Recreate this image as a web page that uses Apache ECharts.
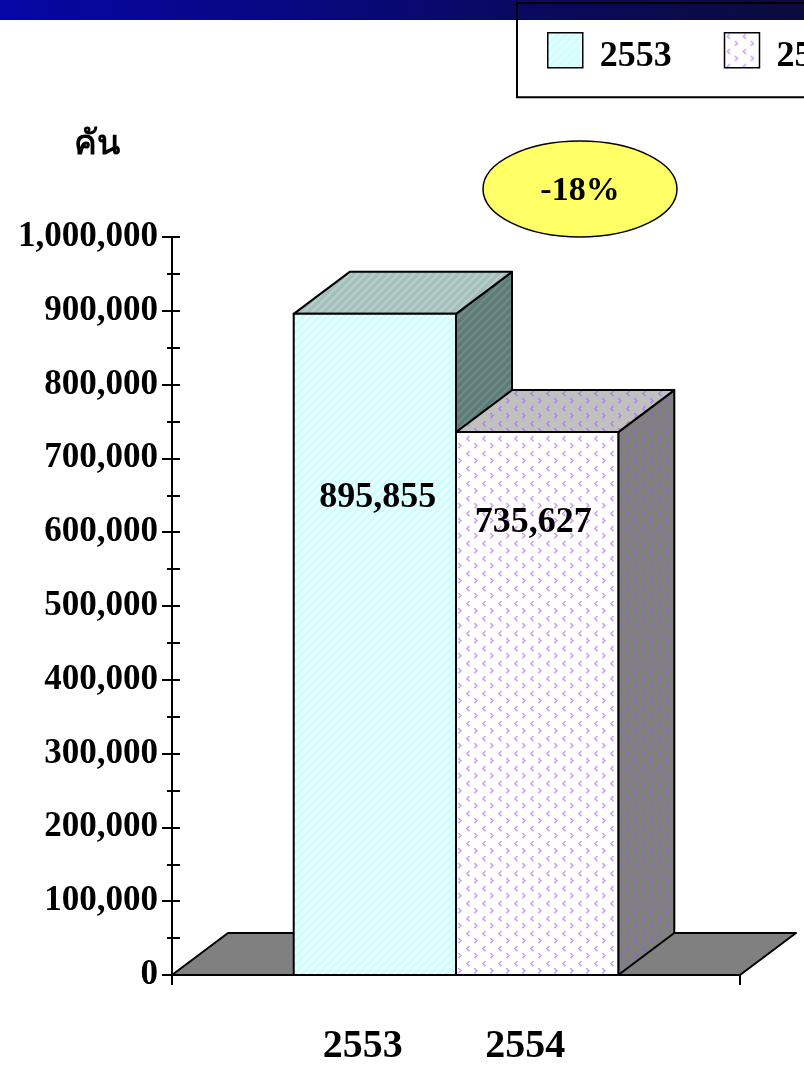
<!DOCTYPE html>
<html>
<head>
<meta charset="utf-8">
<title>จำนวนรถ</title>
<script src="https://cdn.jsdelivr.net/npm/echarts@6/dist/echarts.min.js"></script>
<style>
    html, body { margin: 0; padding: 0; background: #fff; }
    #main { width: 804px; height: 1069px; }
</style>
</head>
<body>
<div id="main"></div>
<script>
// ข้อมูล
var years = ['2553', '2554'];
var cars = [895855, 735627];
var yMin = 0, yMax = 1000000, yStep = 100000;
var unitName = 'คัน';

var FONT = '"Liberation Serif", "Times New Roman", serif';
var DX = 56, DY = -42;   // 3d depth offset
var xMin = -1.25, xMax = 2.25;

function fmt(v) {
    return Number(v).toLocaleString('en-US');
}

// striped pattern (cyan bar)
function stripes(bg, fg) {
    var c = document.createElement('canvas');
    c.width = 8; c.height = 8;
    var g = c.getContext('2d');
    g.fillStyle = bg;
    g.fillRect(0, 0, 8, 8);
    g.strokeStyle = fg;
    g.lineWidth = 2;
    g.beginPath();
    g.moveTo(-2, 10); g.lineTo(10, -2);
    g.moveTo(-2, 2); g.lineTo(2, -2);
    g.moveTo(6, 10); g.lineTo(10, 6);
    g.stroke();
    return { image: c, repeat: 'repeat' };
}

// small < > marks (purple bar)
function chevrons(bg, fg) {
    var c = document.createElement('canvas');
    c.width = 16; c.height = 15;
    var g = c.getContext('2d');
    g.fillStyle = bg;
    g.fillRect(0, 0, 16, 15);
    g.fillStyle = fg;
    function mark(x, y, right) {
        // pixel chevron 3 wide, 5 tall
        var col = right ? [0, 1, 2, 1, 0] : [2, 1, 0, 1, 2];
        for (var k = 0; k < 5; k++) {
            g.fillRect(x + col[k], y + k, 1.7, 1.3);
        }
    }
    mark(2, 1, false);
    mark(10, 8, true);
    return { image: c, repeat: 'repeat' };
}

var pats = [
    {
        front: stripes('#ccffff', '#f0ffff'),
        top: stripes('#a3bfbb', '#b9cfcb'),
        side: stripes('#5f7b78', '#708c88'),
        drop: 184, shift: 3
    },
    {
        front: chevrons('#ffffff', '#c29cff'),
        top: chevrons('#c0c0c0', '#a884e6'),
        side: chevrons('#808080', '#8a6cc0'),
        drop: 91, shift: -4
    }
];

var edge = { stroke: '#000', lineWidth: 2, lineJoin: 'round' };

function barItem(p) {
    return function(params, api) {
        var x = api.value(0), v = api.value(1);
        var tl = api.coord([x - 0.5, v]);
        var br = api.coord([x + 0.5, 0]);
        var L = tl[0], T = tl[1], R = br[0], B = br[1];
        return {
            type: 'group',
            children: [{
                type: 'polygon',
                shape: { points: [[R, T], [R + DX, T + DY], [R + DX, B + DY], [R, B]] },
                style: Object.assign({ fill: p.side }, edge)
            }, {
                type: 'polygon',
                shape: { points: [[L, T], [L + DX, T + DY], [R + DX, T + DY], [R, T]] },
                style: Object.assign({ fill: p.top }, edge)
            }, {
                type: 'rect',
                shape: { x: L, y: T, width: R - L, height: B - T },
                style: Object.assign({ fill: p.front }, edge)
            }, {
                type: 'text',
                style: {
                    text: fmt(v), x: (L + R) / 2 + p.shift, y: T + p.drop,
                    align: 'center', verticalAlign: 'middle',
                    fontFamily: FONT, fontWeight: 'bold', fontSize: 36, fill: '#000'
                }
            }]
        };
    };
}

function floorItem(params, api) {
    var cs = params.coordSys;
    var y0 = api.coord([0, 0])[1];
    var l = cs.x, r = cs.x + cs.width;
    return {
        type: 'polygon',
        shape: { points: [[l, y0], [l + DX, y0 + DY], [r + DX, y0 + DY], [r, y0]] },
        style: Object.assign({ fill: '#808080' }, edge)
    };
}

var pct = Math.round((cars[1] - cars[0]) / cars[0] * 100);

var series = [{
    name: 'floor',
    type: 'custom',
    renderItem: floorItem,
    data: [[0, 0]],
    silent: true
}];
years.forEach(function(y, i) {
    series.push({
        name: y,
        type: 'custom',
        renderItem: barItem(pats[i]),
        itemStyle: { color: pats[i].front },
        encode: { x: 0, y: 1 },
        data: [[i, cars[i]]]
    });
});

var axisLineStyle = { color: '#000', width: 2 };

var myChart = echarts.init(document.getElementById('main'));
var option = {
    animation: false,
    grid: { left: 172, right: 64, top: 237, bottom: 94 },
    legend: {
        data: years,
        left: 517, top: 3,
        width: 380,
        padding: [29, 40, 23, 30],
        itemGap: 52,
        itemWidth: 35,
        itemHeight: 35,
        icon: 'rect',
        borderColor: '#000',
        borderWidth: 2,
        itemStyle: { borderColor: '#000', borderWidth: 1.5 },
        formatter: '{t|{name}}',
        textStyle: {
            fontFamily: FONT, fontWeight: 'bold', fontSize: 36, color: '#000',
            rich: {
                t: { fontFamily: FONT, fontWeight: 'bold', fontSize: 36, color: '#000', padding: [12, 0, 0, 12] }
            }
        }
    },
    xAxis: {
        type: 'value',
        min: xMin, max: xMax,
        axisLine: { show: true, onZero: false, lineStyle: axisLineStyle },
        axisTick: { show: true, customValues: [xMin, xMax], length: 10, lineStyle: axisLineStyle },
        axisLabel: {
            customValues: [0, 1],
            formatter: function(v) { return years[Math.round(v)]; },
            margin: 52,
            padding: [0, 24, 0, 0],
            color: '#000', fontFamily: FONT, fontWeight: 'bold', fontSize: 40
        },
        splitLine: { show: false }
    },
    yAxis: [{
        type: 'value',
        min: yMin, max: yMax, interval: yStep,
        position: 'left',
        name: unitName,
        nameLocation: 'end',
        nameGap: 76,
        nameTextStyle: {
            align: 'right', padding: [0, 52, 0, 0],
            fontFamily: '"Noto Sans", "DejaVu Sans", sans-serif', fontWeight: 'bold', fontSize: 34, color: '#000'
        },
        axisLine: { show: true, onZero: false, lineStyle: axisLineStyle },
        axisTick: { show: true, length: 10, lineStyle: axisLineStyle },
        minorTick: { show: true, splitNumber: 2, length: 5, lineStyle: axisLineStyle },
        splitLine: { show: false },
        axisLabel: {
            margin: 14, color: '#000', fontFamily: FONT, fontWeight: 'bold', fontSize: 35,
            formatter: fmt
        }
    }, {
        type: 'value',
        min: yMin, max: yMax, interval: yStep,
        position: 'left',
        axisLine: { show: false, onZero: false },
        axisTick: { show: true, inside: true, length: 8, lineStyle: axisLineStyle },
        minorTick: { show: true, splitNumber: 2, length: 8, lineStyle: axisLineStyle },
        splitLine: { show: false },
        axisLabel: { show: false }
    }],
    graphic: [{
        type: 'rect',
        left: 0, top: 0, z: -1,
        shape: { width: 804, height: 20 },
        style: {
            fill: new echarts.graphic.LinearGradient(0, 0, 1, 0, [
                { offset: 0, color: '#0606a6' },
                { offset: 1, color: '#0b0b3c' }
            ])
        }
    }, {
        type: 'ellipse',
        shape: { cx: 580, cy: 189, rx: 97, ry: 48 },
        style: { fill: '#ffff66', stroke: '#000', lineWidth: 1.5 }
    }, {
        type: 'text',
        x: 580, y: 191,
        style: {
            text: pct + '%', align: 'center', verticalAlign: 'middle',
            fontFamily: FONT, fontWeight: 'bold', fontSize: 34, fill: '#000'
        }
    }],
    series: series
};
myChart.setOption(option);
</script>
</body>
</html>
